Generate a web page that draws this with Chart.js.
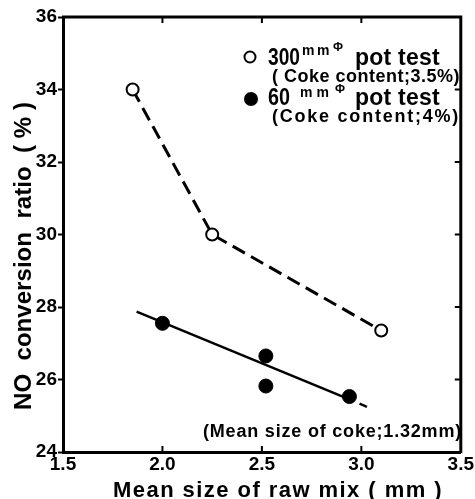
<!DOCTYPE html>
<html>
<head>
<meta charset="utf-8">
<script src="https://cdn.jsdelivr.net/npm/chart.js@4"></script>
<style>
  html, body { margin: 0; padding: 0; background: #fff; }
  #wrap { width: 475px; height: 499px; }
</style>
</head>
<body>
<div id="wrap"><canvas id="c" width="475" height="499"></canvas></div>
<script>
// 300 mm pot test (open circles, dashed)
const size300 = [1.85, 2.25, 3.10]
const ratio300 = [34.0, 30.0, 27.35]
// 60 mm pot test (filled circles)
const size60 = [2.0, 2.52, 2.52, 2.94]
const ratio60 = [27.55, 26.65, 25.82, 25.53]
// fitted line through the 60 mm points
const fitSize60 = [1.87, 2.94, 3.04]
const fitRatio60 = [27.87, 25.45, 25.22]

const xTicks = [1.5, 2.0, 2.5, 3.0, 3.5]
const yTicks = [24, 26, 28, 30, 32, 34, 36]

const FONT = '"Liberation Sans", Arial, sans-serif'
const toPts = (xs, ys) => xs.map((x, i) => ({x: x, y: ys[i]}))

// draw text to a given width: spread with letter spacing, or squeeze horizontally
const fitText = (ctx, str, x, y, width, font) => {
  ctx.save()
  ctx.font = font
  ctx.letterSpacing = '0px'
  let w0 = ctx.measureText(str).width
  if (w0 > width) {
    ctx.translate(x, y)
    ctx.scale(width / w0, 1)
    ctx.fillText(str, 0, 0)
  } else {
    ctx.letterSpacing = ((width - w0) / str.length) + 'px'
    ctx.fillText(str, x, y)
  }
  ctx.restore()
}

const framePlugin = {
  id: 'frame',
  afterDraw(chart) {
    const ctx = chart.ctx
    const {left, right, top, bottom} = chart.chartArea
    const xs = chart.scales.x, ys = chart.scales.y
    ctx.save()
    ctx.strokeStyle = '#000'
    ctx.lineWidth = 3
    ctx.beginPath()
    ctx.moveTo(left - 1, top)
    ctx.lineTo(right, top)
    ctx.lineTo(right, bottom + 1)
    ctx.stroke()
    // inward ticks
    ctx.lineWidth = 2
    ctx.beginPath()
    xTicks.slice(1, -1).forEach(v => {
      let px = xs.getPixelForValue(v)
      ctx.moveTo(px, top); ctx.lineTo(px, top + 6)
      ctx.moveTo(px, bottom); ctx.lineTo(px, bottom - 6)
    })
    yTicks.slice(1, -1).forEach(v => {
      let py = ys.getPixelForValue(v)
      ctx.moveTo(right, py); ctx.lineTo(right - 6, py)
    })
    ctx.stroke()

    // legend
    ctx.textBaseline = 'alphabetic'
    ctx.textAlign = 'left'
    ctx.lineWidth = 2
    ctx.beginPath(); ctx.arc(250, 57, 5.5, 0, Math.PI * 2)
    ctx.fillStyle = '#fff'; ctx.fill(); ctx.stroke()
    ctx.fillStyle = '#000'
    fitText(ctx, '300', 268, 65, 32, 'bold 24px ' + FONT)
    fitText(ctx, 'mm', 302, 55, 30, 'bold 14px ' + FONT)
    fitText(ctx, 'Φ', 333, 51, 10, 'bold 13px ' + FONT)
    fitText(ctx, 'pot test', 355, 65, 85, 'bold 23px ' + FONT)
    fitText(ctx, '( Coke content;3.5%)', 272, 82, 188, 'bold 18px ' + FONT)

    ctx.beginPath(); ctx.arc(251, 99, 7, 0, Math.PI * 2); ctx.fill()
    fitText(ctx, '60', 268, 105, 22, 'bold 24px ' + FONT)
    fitText(ctx, 'mm', 300, 97, 33, 'bold 14px ' + FONT)
    fitText(ctx, 'Φ', 335, 93, 10, 'bold 13px ' + FONT)
    fitText(ctx, 'pot test', 355, 105, 85, 'bold 23px ' + FONT)
    fitText(ctx, '(Coke content;4%)', 272, 122, 188, 'bold 18px ' + FONT)

    // note
    fitText(ctx, '(Mean size of coke;1.32mm)', 203, 437, 259, 'bold 18px ' + FONT)

    // axis titles
    fitText(ctx, 'Mean size of raw mix ( mm )', 113, 497, 330, 'bold 22px ' + FONT)
    ctx.translate(31, 410)
    ctx.rotate(-Math.PI / 2)
    fitText(ctx, 'NO  conversion  ratio  ( % )', 0, 0, 308, 'bold 24px ' + FONT)
    ctx.restore()
  }
}

new Chart(document.getElementById('c'), {
  type: 'scatter',
  data: {
    datasets: [
      {
        data: toPts(size60, ratio60),
        pointRadius: 7,
        pointBackgroundColor: '#000',
        pointBorderColor: '#000',
        showLine: false,
      },
      {
        data: toPts(size300, ratio300),
        showLine: true,
        borderColor: '#000',
        borderWidth: 3,
        borderDash: [14, 7],
        pointRadius: 6,
        pointBorderWidth: 2,
        pointBackgroundColor: '#fff',
        pointBorderColor: '#000',
      },
      {
        data: toPts(fitSize60, fitRatio60),
        showLine: true,
        borderColor: '#000',
        borderWidth: 2.5,
        pointRadius: 0,
        segment: {
          borderDash: c => c.p0DataIndex === 1 ? [0, 11, 8, 100] : undefined
        }
      }
    ]
  },
  options: {
    responsive: false,
    animation: false,
    layout: { padding: {top: 17, right: 13, left: 0, bottom: 0} },
    plugins: { legend: { display: false }, tooltip: { enabled: false } },
    scales: {
      x: {
        type: 'linear',
        min: 1.5, max: 3.5,
        afterFit: s => { s.height = 47 },
        afterBuildTicks: s => { s.ticks = xTicks.map(v => ({value: v})) },
        ticks: {
          color: '#000',
          padding: 1,
          font: { family: FONT, size: 19, weight: 'bold' },
          callback: v => v.toFixed(1)
        },
        grid: { display: true, drawOnChartArea: false, drawTicks: false },
        border: { display: true, color: '#000', width: 3 }
      },
      y: {
        min: 24, max: 36,
        afterFit: s => { s.width = 63 },
        afterBuildTicks: s => { s.ticks = yTicks.map(v => ({value: v})) },
        ticks: {
          color: '#000',
          padding: 1,
          font: { family: FONT, size: 19, weight: 'bold' }
        },
        grid: { display: true, drawOnChartArea: false, drawTicks: true, tickLength: 5, tickWidth: 2, color: '#000' },
        border: { display: true, color: '#000', width: 3 }
      }
    }
  },
  plugins: [framePlugin]
})
</script>
</body>
</html>
